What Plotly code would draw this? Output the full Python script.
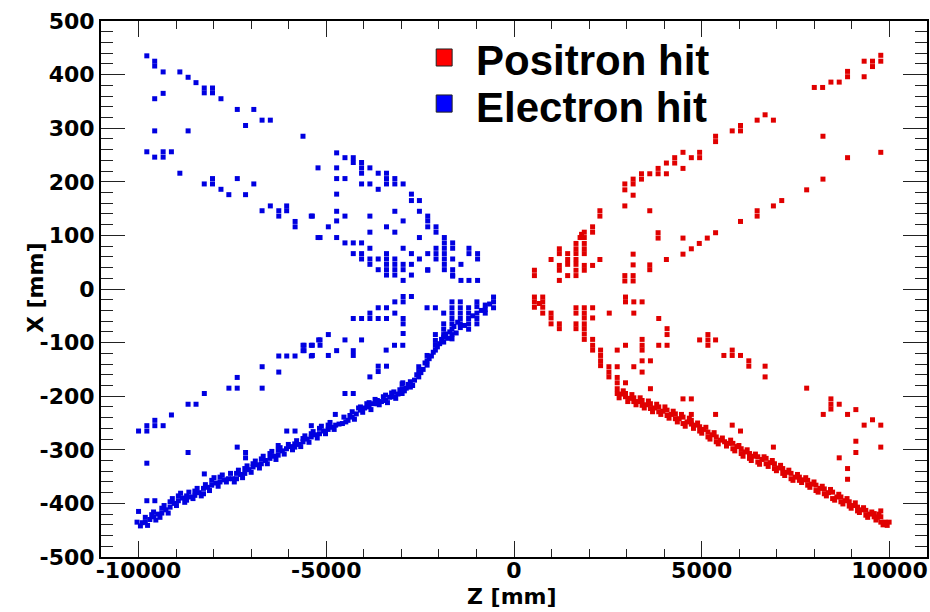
import plotly.graph_objects as go

# ---------------------------------------------------------------------------
# Hit positions (Z [mm], X [mm])
# ---------------------------------------------------------------------------

# electrons: scattered hits above the beam line
electron_upper = [
    (-9780, 435), (-9570, 425), (-9570, 416), (-9345, 405), (-8900, 405), (-8680, 395),
    (-8470, 385), (-8250, 375), (-8250, 366), (-8030, 375), (-8030, 366), (-7805, 355),
    (-7370, 335), (-6930, 335), (-7150, 305), (-6710, 315), (-6490, 315), (-5620, 285),
    (-9570, 355), (-9345, 365), (-9570, 295), (-8680, 295),
    (-9780, 256), (-9570, 246), (-9345, 256), (-9345, 246), (-9125, 256), (-8900, 216),
    (-8250, 196), (-8030, 206), (-8030, 196), (-7805, 186), (-7595, 176), (-7370, 206),
    (-7150, 176), (-6930, 196), (-6710, 146), (-6490, 155), (-6265, 146), (-6265, 136),
    (-6055, 155), (-6055, 146), (-5830, 126), (-5830, 116), (-5400, 136), (-5220, 96),
    (-5220, 226),
    (-4724, 254), (-4502, 245), (-4281, 245), (-4281, 236), (-4724, 226), (-4060, 236),
    (-4060, 226), (-4060, 216), (-3838, 226), (-3617, 216), (-3396, 216), (-4724, 206),
    (-4502, 206), (-3396, 206), (-3396, 196), (-3174, 196), (-3174, 206), (-2953, 196),
    (-4060, 196), (-3838, 196), (-3617, 186), (-4724, 177), (-2732, 177), (-2732, 165),
    (-2519, 165), (-4724, 145), (-4502, 136), (-4724, 127), (-5370, 136), (-3838, 136),
    (-3174, 145), (-2953, 127), (-2519, 145), (-2298, 136), (-2298, 127), (-2298, 116),
    (-4945, 116), (-3396, 116), (-3838, 106), (-3174, 106), (-2077, 116), (-2077, 106),
    (-5166, 96), (-4724, 96), (-2519, 96), (-4502, 86), (-4281, 86), (-4060, 86),
    (-1855, 96), (-1855, 86), (-1855, 76), (-1855, 66), (-1855, 56), (-1855, 46),
    (-1855, 36), (-1634, 86), (-1634, 76), (-3838, 76), (-2953, 76), (-4281, 66),
    (-4060, 66), (-4060, 56), (-3838, 56), (-3838, 46), (-3617, 56), (-3396, 66),
    (-3396, 56), (-3396, 46), (-3396, 36), (-3396, 26), (-3174, 56), (-3174, 46),
    (-3174, 36), (-3174, 26), (-2953, 46), (-2953, 36), (-2732, 66), (-2732, 46),
    (-2732, 26), (-3617, 36), (-2953, 16), (-2519, 56), (-2298, 36), (-2077, 76),
    (-2077, 66), (-2077, 56), (-2298, 66), (-1634, 56), (-1634, 36), (-1634, 26),
    (-1413, 46), (-1200, 76), (-1200, 66), (-970, 66), (-970, 56), (-1413, 16),
    (-1200, 16), (-970, 16), (-2298, 35), (-1634, 24),
]

# electrons: scattered hits below the beam line
electron_lower = [
    (-2953, -14), (-2732, -14), (-2953, -24), (-3174, -24), (-3617, -35), (-3396, -35),
    (-3838, -45), (-3174, -45), (-4281, -55), (-4060, -55), (-3838, -55), (-3617, -55),
    (-3396, -55), (-2953, -55), (-2953, -65), (-2316, -35), (-2094, -35), (-2953, -83),
    (-4945, -85), (-5166, -95), (-5370, -105), (-5591, -105), (-5591, -115), (-5166, -105),
    (-4502, -95), (-4060, -95), (-4724, -115), (-4281, -115), (-4281, -124), (-5370, -124),
    (-4945, -124), (-3405, -114), (-3183, -105), (-2962, -105), (-3617, -144), (-3396, -144),
    (-3617, -154), (-3838, -164), (-4502, -195), (-4281, -195), (-2962, -175),
    (-10000, -265), (-9779, -265), (-9779, -255), (-9566, -245), (-9566, -255), (-9345, -255),
    (-9124, -235), (-8681, -215), (-8469, -215), (-8248, -195), (-9779, -325), (-8681, -305),
    (-7593, -185), (-7372, -185), (-7372, -165), (-6708, -145), (-6708, -185), (-6265, -125),
    (-6053, -125), (-5832, -125), (-6265, -155), (-5619, -105), (-5619, -115), (-5398, -105),
    (-5398, -125), (-5203, -95), (-9779, -395), (-9566, -395), (-10000, -415), (-7372, -295),
    (-7150, -305), (-7150, -315), (-8248, -345), (-6053, -265), (-5832, -265), (-5398, -255),
    (-4759, -234),
]

# electrons: dense cluster close to the interaction point
electron_tip = [
    (-1873, -45), (-1873, -65), (-1873, -75), (-1873, -85), (-2094, -85),
    (-1652, -24), (-1652, -35), (-1652, -45), (-1652, -55), (-1652, -65), (-1652, -75),
    (-1430, -24), (-1430, -35), (-1430, -45), (-1430, -55), (-1430, -65),
    (-1209, -35), (-1209, -45), (-1209, -55), (-1209, -65), (-1209, -75),
    (-988, -24), (-988, -33), (-988, -45), (-988, -55), (-988, -65),
    (-766, -30), (-766, -38), (-766, -45),
    (-545, -15), (-545, -24), (-545, -35), (-650, -28), (-870, -40), (-1100, -50),
]

# electrons: main track band
electron_band = [
    (-10040, -435), (-9900, -436), (-9820, -435), (-9820, -426), (-9700, -430),
    (-9600, -425), (-9600, -416), (-9480, -420), (-9380, -418), (-9380, -409),
    (-9270, -412), (-9160, -407), (-9160, -397), (-9050, -400), (-8940, -395),
    (-8940, -386), (-8830, -390), (-8720, -394), (-8720, -386), (-8600, -388),
    (-8500, -385), (-8500, -377), (-8390, -380), (-8270, -382), (-8270, -372),
    (-8160, -370), (-8050, -366), (-8050, -357), (-7940, -362), (-7830, -360),
    (-7830, -351), (-7720, -356), (-7610, -354), (-7500, -354), (-7390, -354),
    (-7390, -344), (-7280, -346), (-7170, -344), (-7170, -335), (-7060, -337),
    (-6950, -332), (-6950, -326), (-6840, -328), (-6730, -326), (-6730, -317),
    (-6620, -320), (-6500, -316), (-6500, -307), (-6390, -312), (-6280, -310),
    (-6280, -301), (-6280, -292), (-6170, -302), (-6060, -298), (-5950, -294),
    (-5840, -295), (-5840, -289), (-5730, -290), (-5620, -285), (-5620, -279),
    (-5510, -280), (-5400, -276), (-5400, -270), (-5290, -272), (-5180, -270),
    (-5180, -260), (-5070, -265), (-4950, -262), (-4950, -254), (-4840, -258),
    (-4750, -254), (-4660, -252), (-4570, -251), (-4530, -239), (-4420, -245),
    (-4310, -239), (-4310, -229), (-4200, -233), (-4090, -226), (-4090, -220),
    (-3980, -222), (-3860, -220), (-3860, -212), (-3750, -214), (-3640, -214),
    (-3640, -208), (-3530, -210), (-3420, -208), (-3420, -198), (-3310, -202),
    (-3200, -201), (-3200, -192), (-3090, -196), (-2980, -195), (-2980, -186),
    (-2980, -177), (-2870, -185), (-2760, -183), (-2760, -173), (-2650, -170),
    (-2537, -164), (-2537, -154), (-2537, -145), (-2420, -150), (-2315, -142),
    (-2315, -134), (-2315, -124), (-2200, -125), (-2094, -114), (-2094, -105),
    (-2094, -96), (-1980, -102), (-1873, -99), (-1873, -90), (-1760, -92),
    (-1651, -93), (-1651, -85), (-1540, -82), (-1430, -72), (-1320, -68),
]

# electrons: extra hits that widen the track band
electron_band_wide = [
    (-9950, -442), (-9760, -441), (-9650, -421), (-9540, -431), (-9430, -426),
    (-9320, -404), (-9210, -418), (-9100, -391), (-8990, -404), (-8880, -381),
    (-8770, -398), (-8660, -379), (-8550, -391), (-8440, -372), (-8330, -386),
    (-8220, -365), (-8110, -376), (-7990, -352), (-7880, -368), (-7770, -347),
    (-7660, -360), (-7550, -344), (-7450, -360), (-7340, -338), (-7230, -352),
    (-7110, -330), (-7000, -342), (-6890, -321), (-6780, -334), (-6680, -312),
    (-6570, -326), (-6450, -303), (-6340, -318), (-6230, -296), (-6120, -308),
    (-6010, -290), (-5900, -300), (-5790, -283), (-5680, -294), (-5570, -274),
    (-5460, -286), (-5350, -266), (-5240, -278), (-5130, -256), (-5020, -270),
    (-4900, -249), (-4790, -262), (-4480, -248), (-4370, -236), (-4250, -243),
    (-4140, -222), (-4030, -230), (-3920, -214), (-3810, -225), (-3700, -206),
    (-3590, -216), (-3480, -201), (-3370, -212), (-3260, -194), (-3150, -204),
    (-3040, -188), (-2920, -190), (-2820, -178), (-2700, -180), (-2590, -160),
    (-2480, -156), (-2370, -138), (-2260, -130), (-2150, -118), (-2040, -108),
    (-1930, -94), (-1820, -84), (-1710, -80), (-1600, -70), (-1500, -62),
]

# positrons: scattered hits above the beam line
positron_upper = [
    (9769, 436), (9769, 425), (9548, 425), (9548, 415), (9326, 425), (9326, 396),
    (8884, 406), (8884, 396), (8662, 386), (8441, 386), (8220, 376), (7998, 376),
    (8229, 285), (8884, 245), (9769, 255), (8229, 205), (7795, 185), (7131, 165),
    (6909, 155), (6476, 146), (6476, 136), (6033, 126), (5369, 105), (5148, 95),
    (4935, 85), (4723, 75), (4501, 65), (4059, 55), (3616, 45), (3616, 36),
    (3173, 65), (3173, 45), (3173, 25), (3173, 15), (2952, 25), (2952, 15),
    (3838, 105), (3838, 95), (4501, 95), (3616, 146), (2952, 155), (3173, 175),
    (2288, 146), (2288, 136), (2288, 55),
    (2952, 196), (2952, 185), (3173, 205), (3173, 196), (3395, 205), (3395, 215),
    (3616, 215), (3838, 225), (3838, 215), (4059, 215), (4059, 235), (4280, 245),
    (4280, 235), (4501, 225), (4501, 255), (4723, 245), (4944, 255), (4944, 245),
    (5369, 285), (5369, 275), (5812, 295), (6033, 305), (6033, 295), (6476, 315),
    (6688, 325), (6909, 315),
    (544, 35), (544, 25), (1208, 75), (1208, 66), (1208, 44), (1208, 35), (1208, 16),
    (987, 55), (1429, 66), (1429, 55), (1429, 46), (1429, 25), (1651, 85), (1651, 75),
    (1651, 66), (1651, 55), (1651, 46), (1651, 35), (1651, 25), (1872, 106), (1872, 96),
    (1872, 85), (1872, 75), (1872, 66), (1872, 44), (1872, 35), (1760, 96), (1800, 102),
    (2093, 116), (2093, 106), (2093, 44),
]

# positrons: scattered hits below the beam line
positron_lower = [
    (544, -15), (544, -24), (544, -34), (677, -27), (765, -15), (765, -24), (765, -34),
    (765, -45), (987, -45), (987, -54), (987, -65), (1208, -65), (1208, -74),
    (1651, -35), (1651, -45), (1651, -65), (1651, -74), (1872, -35), (1872, -45),
    (1872, -54), (1872, -65), (1872, -74), (1872, -84), (1872, -94), (2094, -35),
    (2094, -54), (2094, -94), (2094, -105), (2094, -114), (2306, -114), (2306, -124),
    (2306, -134), (2306, -143), (2528, -145), (2528, -155), (2528, -164), (2749, -165),
    (2749, -175), (2749, -186), (2537, -45), (2749, -114), (2970, -105),
    (2749, -145), (2970, -175), (2970, -15), (2970, -24), (3191, -24), (3412, -24),
    (3191, -45), (3191, -145), (3412, -94), (3412, -105), (3412, -114), (3412, -134),
    (3634, -134), (3412, -155), (3634, -186), (3855, -105), (4077, -105), (3855, -55),
    (4077, -74), (4077, -85),
    (4944, -95), (5165, -85), (5165, -95), (5165, -105), (5369, -95), (5590, -124),
    (5812, -114), (5812, -124), (6033, -124), (6254, -134), (6254, -144), (6688, -144),
    (6688, -164), (7795, -185), (4501, -205), (4723, -205), (4723, -234), (5369, -234),
    (5812, -254), (6033, -265), (6909, -295), (8441, -205), (8441, -215), (8441, -224),
    (8237, -234), (8662, -215), (8884, -234), (9105, -225), (9326, -254), (9548, -244),
    (9769, -254), (9105, -284), (9105, -305), (8662, -315), (9769, -295), (8884, -335),
    (8884, -355), (9769, -414),
]

# positrons: main track band
positron_band = [
    (2749, -195), (2860, -196), (2970, -195), (2970, -201), (3080, -204), (3191, -203),
    (3191, -210), (3300, -210), (3412, -208), (3412, -217), (3520, -216), (3634, -214),
    (3634, -223), (3745, -222), (3855, -220), (3855, -229), (3965, -228), (4077, -226),
    (4077, -236), (4190, -234), (4298, -233), (4298, -242), (4400, -242), (4502, -239),
    (4502, -251), (4610, -248), (4723, -245), (4723, -252), (4835, -254), (4945, -257),
    (4945, -265), (5055, -262), (5166, -267), (5166, -276), (5275, -272), (5387, -276),
    (5387, -285), (5500, -282), (5609, -285), (5720, -288), (5830, -288), (5830, -298),
    (5940, -294), (6051, -298), (6051, -307), (6160, -304), (6273, -307), (6273, -316),
    (6385, -312), (6494, -313), (6494, -323), (6605, -318), (6715, -316), (6715, -326),
    (6825, -324), (6937, -326), (6937, -335), (7050, -334), (7158, -335), (7158, -344),
    (7270, -342), (7379, -344), (7379, -354), (7490, -351), (7601, -351), (7601, -357),
    (7710, -356), (7822, -357), (7822, -366), (7930, -364), (8043, -366), (8043, -376),
    (8150, -372), (8265, -373), (8265, -382), (8375, -380), (8486, -379), (8486, -391),
    (8600, -388), (8707, -388), (8707, -397), (8820, -395), (8929, -397), (8929, -405),
    (9040, -404), (9150, -407), (9150, -414), (9260, -412), (9371, -413), (9371, -422),
    (9480, -420), (9593, -419), (9593, -425), (9680, -426), (9770, -425), (9770, -435),
    (9880, -435), (9991, -435),
]

# positrons: extra hits that widen the track band
positron_band_wide = [
    (2800, -203), (2910, -190), (3030, -210), (3140, -197), (3250, -216), (3360, -203),
    (3470, -222), (3580, -209), (3690, -229), (3800, -215), (3910, -234), (4020, -220),
    (4130, -241), (4240, -228), (4350, -248), (4460, -234), (4560, -256), (4670, -241),
    (4780, -260), (4890, -250), (5000, -269), (5110, -258), (5220, -280), (5330, -268),
    (5440, -289), (5550, -278), (5660, -293), (5770, -282), (5880, -302), (5990, -292),
    (6100, -312), (6210, -300), (6320, -320), (6430, -308), (6540, -327), (6660, -313),
    (6770, -331), (6880, -320), (6990, -339), (7100, -329), (7210, -348), (7320, -338),
    (7430, -357), (7550, -346), (7660, -361), (7770, -352), (7880, -370), (7990, -360),
    (8100, -379), (8210, -368), (8320, -386), (8430, -374), (8540, -394), (8650, -383),
    (8760, -401), (8870, -391), (8980, -409), (9090, -399), (9200, -417), (9310, -408),
    (9420, -426), (9530, -416), (9640, -431), (9720, -420), (9830, -440), (9940, -441),
]

# axis ticks
z_tick_vals = [-10000, -5000, 0, 5000, 10000]
z_tick_text = ["-10000", "-5000", "0", "5000", "10000"]
x_tick_vals = [-500, -400, -300, -200, -100, 0, 100, 200, 300, 400, 500]
x_tick_text = ["-500", "-400", "-300", "-200", "-100", "0", "100", "200", "300", "400", "500"]

legend_labels = ["Positron hit", "Electron hit"]

# ---------------------------------------------------------------------------
POS_COLOR = "#e00000"
ELE_COLOR = "#0000e0"
AXIS_FONT = "DejaVu Sans"
LEGEND_FONT = "Liberation Sans"
TICK_COLOR = "#222222"


def unpack(*groups):
    zs, xs = [], []
    for g in groups:
        for z, x in g:
            zs.append(z)
            xs.append(x)
    return zs, xs


pz, px = unpack(positron_band, positron_band_wide, positron_lower, positron_upper)
ez, ex = unpack(electron_band, electron_band_wide, electron_tip, electron_lower,
                electron_upper)

fig = go.Figure()
fig.add_trace(go.Scatter(
    x=pz, y=px, mode="markers", name=legend_labels[0], showlegend=False,
    marker=dict(symbol="square", size=5, color=POS_COLOR, line=dict(width=0)),
))
fig.add_trace(go.Scatter(
    x=ez, y=ex, mode="markers", name=legend_labels[1], showlegend=False,
    marker=dict(symbol="square", size=5, color=ELE_COLOR, line=dict(width=0)),
))

tick_font = dict(family=AXIS_FONT, size=22, color="black", weight="bold")

# ROOT-style frame: inward major and minor ticks mirrored on all four sides
fig.update_layout(
    xaxis=dict(
        range=[-11000, 11000], tickmode="array",
        tickvals=z_tick_vals, ticktext=z_tick_text,
        ticks="inside", ticklen=16, tickwidth=1, tickcolor=TICK_COLOR,
        minor=dict(ticks="inside", ticklen=8, tickwidth=1, tickcolor=TICK_COLOR,
                   tick0=0, dtick=1000, showgrid=False),
        showline=True, linecolor="black", linewidth=2, mirror="allticks",
        showgrid=False, zeroline=False, tickfont=tick_font, ticklabelstandoff=-7,
        layer="above traces",
    ),
    yaxis=dict(
        range=[-500, 500], tickmode="array",
        tickvals=x_tick_vals, ticktext=x_tick_text,
        ticks="inside", ticklen=24, tickwidth=1, tickcolor=TICK_COLOR,
        minor=dict(ticks="inside", ticklen=12, tickwidth=1, tickcolor=TICK_COLOR,
                   tick0=0, dtick=20, showgrid=False),
        showline=True, linecolor="black", linewidth=2, mirror="allticks",
        showgrid=False, zeroline=False, tickfont=tick_font, ticklabelstandoff=0,
        layer="above traces",
    ),
)

title_font = dict(family=AXIS_FONT, size=22, color="black", weight="bold")
legend_font = dict(family=LEGEND_FONT, size=42, color="black", weight="bold")

annotations = [
    dict(text="Z [mm]", x=0.4976, y=-0.073, xref="paper", yref="paper",
         xanchor="center", yanchor="middle", showarrow=False, font=title_font),
    dict(text="X [mm]", x=-0.0785, y=0.502, xref="paper", yref="paper",
         xanchor="center", yanchor="middle", textangle=-90, showarrow=False,
         font=title_font),
    dict(text=legend_labels[0], x=0.452, y=0.9254, xref="paper", yref="paper",
         xanchor="left", yanchor="middle", showarrow=False, font=legend_font),
    dict(text=legend_labels[1], x=0.452, y=0.8377, xref="paper", yref="paper",
         xanchor="left", yanchor="middle", showarrow=False, font=legend_font),
]

legend_boxes = [
    dict(type="rect", xref="paper", yref="paper", x0=0.4058, x1=0.4251,
         y0=0.916, y1=0.9478, fillcolor="#ff0000", line=dict(color="#222222", width=1)),
    dict(type="rect", xref="paper", yref="paper", x0=0.4058, x1=0.4251,
         y0=0.830, y1=0.862, fillcolor="#0000ff", line=dict(color="#222222", width=1)),
]

fig.update_layout(
    width=930, height=612,
    margin=dict(l=101, r=1, t=21, b=55),
    paper_bgcolor="white", plot_bgcolor="white",
    annotations=annotations, shapes=legend_boxes,
    showlegend=False,
)

fig.write_html("out.html")
